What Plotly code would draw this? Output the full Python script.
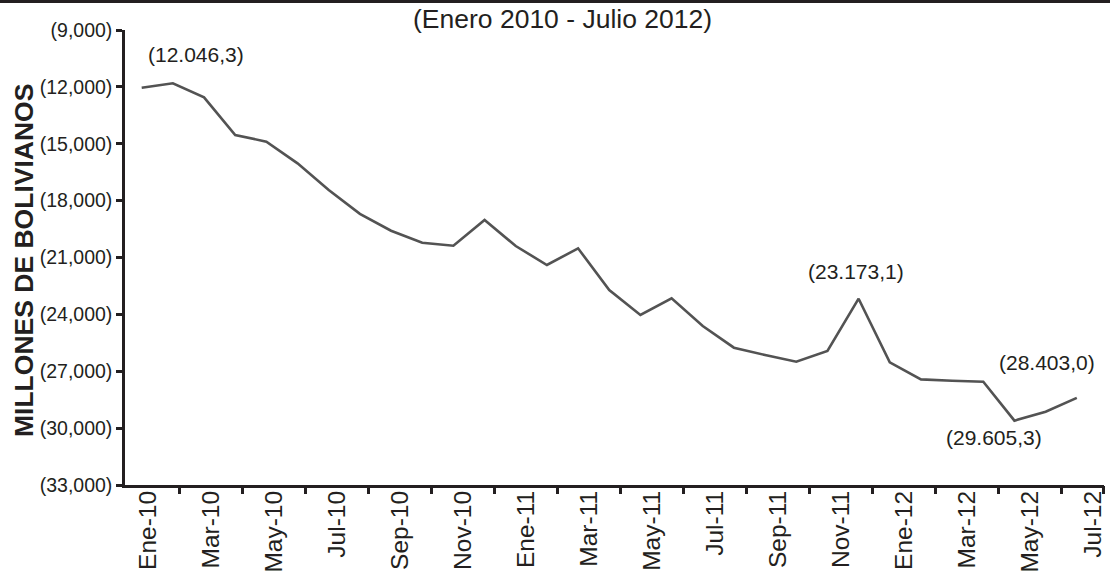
import plotly.graph_objects as go

# ---------------- data ----------------
months = ["Ene", "Feb", "Mar", "Abr", "May", "Jun", "Jul", "Ago", "Sep", "Oct", "Nov", "Dic"]
categories = [f"{months[i % 12]}-{10 + i // 12}" for i in range(31)]  # Ene-10 ... Jul-12

# Net position, millions of bolivianos (negative values shown in parentheses)
values = [-12046.3, -11812, -12552, -14539, -14890, -16033, -17440, -18700,
          -19587, -20220, -20378, -19023, -20394, -21396, -20517, -22715,
          -24034, -23155, -24614, -25757, -26144, -26496, -25933, -23173.1,
          -26530, -27427, -27500, -27550, -29605.3, -29134, -28403.0]

y_ticks = [-33000, -30000, -27000, -24000, -21000, -18000, -15000, -12000, -9000]
y_ticktext = [f"({abs(v):,})" for v in y_ticks]

label_idx = list(range(0, 31, 2))
label_text = [categories[i] for i in label_idx]

# labelled points: (index, text, xshift, yshift)
point_labels = [(0, "(12.046,3)", 54, 33),
                (23, "(23.173,1)", -3, 27),
                (30, "(28.403,0)", -30, 35),
                (28, "(29.605,3)", -20, -17)]

# ---------------- layout geometry ----------------
W, H = 1110, 580
L, R, T, B = 125, 1104, 30, 485
pw, ph = R - L, B - T
INK = "#231f20"
FONT = "Liberation Sans, Arial, Helvetica, sans-serif"

# data x axis (points)
s1 = 31.17
a1 = -(141.7 - L) / s1
b1 = a1 + pw / s1
# label/tick axis
s2 = 31.48
a2 = -(148.5 - L) / s2
b2 = a2 + pw / s2

fig = go.Figure()
fig.add_trace(go.Scatter(x=list(range(len(values))), y=values, mode="lines",
                         line=dict(color="#535353", width=2.6),
                         hoverinfo="skip", showlegend=False))
fig.add_trace(go.Scatter(x=[], y=[], xaxis="x2", showlegend=False))
fig.add_trace(go.Scatter(x=[], y=[], xaxis="x3", showlegend=False))

tick_pos = [i + 1 for i in range(0, 30, 2)] + [b2 - 0.005]

fig.update_layout(
    width=W, height=H,
    margin=dict(l=L, r=W - R, t=T, b=H - B, pad=0, autoexpand=False),
    paper_bgcolor="white", plot_bgcolor="white",
    font=dict(family=FONT, color=INK),
    xaxis=dict(range=[a1, b1], showgrid=False, zeroline=False, automargin=False,
               showticklabels=False, ticks="",
               showline=True, linecolor=INK, linewidth=2.5),
    xaxis2=dict(range=[a2, b2], overlaying="x", anchor="y", side="bottom",
                showgrid=False, zeroline=False, showticklabels=False, automargin=False,
                tickmode="array", tickvals=tick_pos, ticks="outside",
                ticklen=8, tickwidth=2.5, tickcolor=INK, showline=False),
    xaxis3=dict(range=[a2, b2], overlaying="x", anchor="y", side="bottom",
                showgrid=False, zeroline=False, tickmode="array", automargin=False,
                tickvals=label_idx, ticktext=label_text, tickangle=-90,
                ticks="",
                tickfont=dict(size=24.5, color=INK, family=FONT), showline=False),
    yaxis=dict(range=[-33000, -9000], showgrid=False, zeroline=False, automargin=False,
               tickmode="array", tickvals=y_ticks, ticktext=y_ticktext,
               ticks="outside", ticklen=6, tickwidth=2.5, tickcolor=INK,
               tickfont=dict(size=19.5, color=INK, family=FONT),
               showline=True, linecolor=INK, linewidth=2.5),
)

for idx, txt, xs, ys in point_labels:
    fig.add_annotation(x=idx, y=values[idx], xref="x", yref="y", text=txt,
                       showarrow=False, xshift=xs, yshift=ys,
                       font=dict(size=21, color=INK, family=FONT))

# title
fig.add_annotation(x=(562 - L) / pw, y=1 + (T - 19) / ph, xref="paper", yref="paper",
                   text="(Enero 2010 - Julio 2012)", showarrow=False,
                   xanchor="center", yanchor="middle",
                   font=dict(size=26.5, color=INK, family=FONT))
# y-axis title
fig.add_annotation(x=(24 - L) / pw, y=(B - 261) / ph, xref="paper", yref="paper",
                   text="<b>MILLONES DE BOLIVIANOS</b>", showarrow=False,
                   textangle=-90, xanchor="center", yanchor="middle",
                   font=dict(size=26.5, color=INK, family=FONT))

# top black rule
fig.add_shape(type="rect", xref="paper", yref="paper",
              x0=-L / pw, x1=(W - L) / pw, y0=1 + (T - 3) / ph, y1=1 + (T + 2) / ph,
              fillcolor=INK, line=dict(width=0), layer="above")

fig.write_html("out.html", config={"displayModeBar": False},
               post_script="document.body.style.margin='0';"
                           "document.body.style.overflow='hidden';"
                           "window.scrollTo(0,0);")
